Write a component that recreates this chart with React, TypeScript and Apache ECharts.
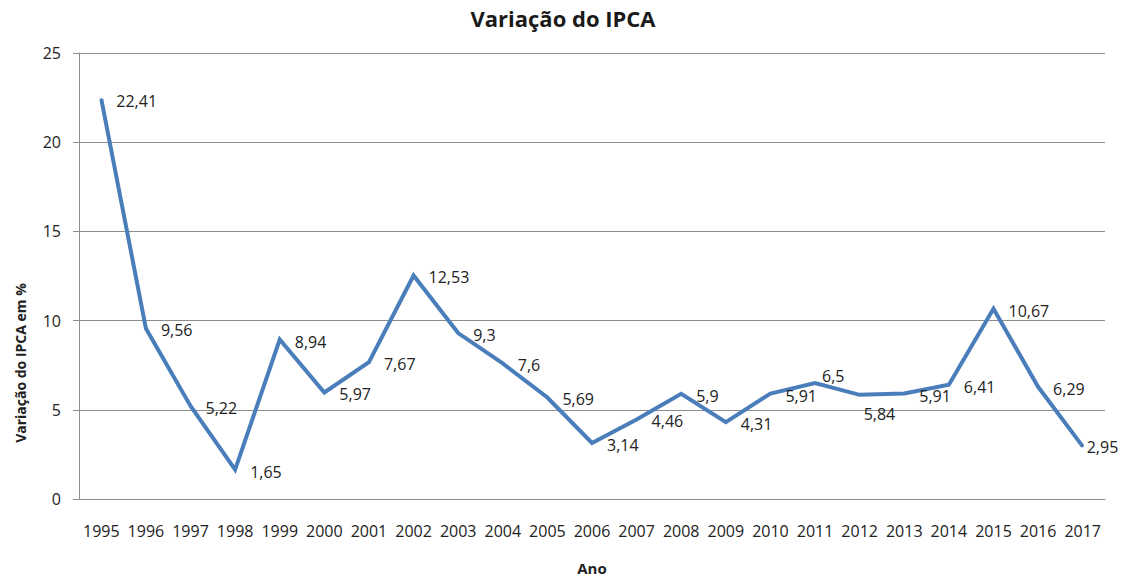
import React, { useEffect, useRef } from "react";
import * as echarts from "echarts";

const years = [
  "1995", "1996", "1997", "1998", "1999", "2000", "2001", "2002", "2003", "2004", "2005", "2006",
  "2007", "2008", "2009", "2010", "2011", "2012", "2013", "2014", "2015", "2016", "2017",
];
const ipca = [
  22.41, 9.56, 5.22, 1.65, 8.94, 5.97, 7.67, 12.53, 9.3, 7.6, 5.69, 3.14,
  4.46, 5.9, 4.31, 5.91, 6.5, 5.84, 5.91, 6.41, 10.67, 6.29, 2.95,
];
const yMin = 0;
const yMax = 25;
const yStep = 5;

const titleText = "Variação do IPCA";
const xName = "Ano";
const yName = "Variação do IPCA em %";

// label placement tweaks (style only)
const labelTweaks: Record<string, { distance: number; offset: number[] }> = {
  "2011": { distance: 6, offset: [0, -7] },
  "2012": { distance: 3, offset: [0, 19] },
  "2017": { distance: 3, offset: [0, 1] },
};

const FONT = "'Open Sans', sans-serif";
const TEXT = "#222222";
const GRID = "#8c8c8c";
const LINE = "#4a7ebb";

export default function App() {
  const ref = useRef<HTMLDivElement>(null);

  useEffect(() => {
    if (!ref.current) return;
    const chart = echarts.init(ref.current, undefined, { renderer: "svg" });
    const data = ipca.map((v, i) => {
      const t = labelTweaks[years[i]];
      return t ? { value: v, label: { distance: t.distance, offset: t.offset } } : { value: v };
    });
    chart.setOption({
      animation: false,
      backgroundColor: "#ffffff",
      title: {
        text: titleText,
        left: "center",
        top: 2,
        textStyle: { fontFamily: FONT, fontSize: 22, fontWeight: "bold", color: "#1a1a1a" },
      },
      grid: { left: 79, right: 21, top: 53, bottom: 76, containLabel: false },
      xAxis: {
        type: "category",
        data: years,
        boundaryGap: true,
        name: xName,
        nameLocation: "middle",
        nameGap: 61,
        nameTextStyle: { fontFamily: FONT, fontSize: 15, fontWeight: "bold", color: TEXT },
        axisLine: { show: true, lineStyle: { color: GRID, width: 1 } },
        axisTick: { show: false },
        axisLabel: { fontFamily: FONT, fontSize: 16, color: TEXT, margin: 24, interval: 0 },
        splitLine: { show: false },
      },
      yAxis: {
        type: "value",
        min: yMin,
        max: yMax,
        interval: yStep,
        axisLine: { show: true, lineStyle: { color: GRID, width: 1 } },
        axisTick: { show: true, length: 6, lineStyle: { color: GRID } },
        axisLabel: { fontFamily: FONT, fontSize: 16, color: TEXT, margin: 18 },
        splitLine: { show: true, lineStyle: { color: GRID, width: 1 } },
      },
      graphic: [
        {
          type: "text",
          x: 20,
          y: 363,
          rotation: Math.PI / 2,
          style: {
            text: yName,
            fontFamily: FONT,
            fontSize: 14,
            fontWeight: "bold",
            fill: TEXT,
            align: "center",
            verticalAlign: "middle",
          },
        },
      ],
      series: [
        {
          type: "line",
          data,
          symbol: "circle",
          symbolSize: 2,
          showSymbol: true,
          itemStyle: { color: LINE },
          lineStyle: { color: LINE, width: 4, join: "miter" },
          label: {
            show: true,
            position: "right",
            distance: 14,
            offset: [0, 2],
            fontFamily: FONT,
            fontSize: 16,
            color: TEXT,
            formatter: (p: any) => String(p.value).replace(".", ","),
          },
        },
      ],
    });
    return () => chart.dispose();
  }, []);

  return (
    <div
      ref={ref}
      style={{ position: "fixed", left: 0, top: 0, width: 1126, height: 580, background: "#fff" }}
    />
  );
}
